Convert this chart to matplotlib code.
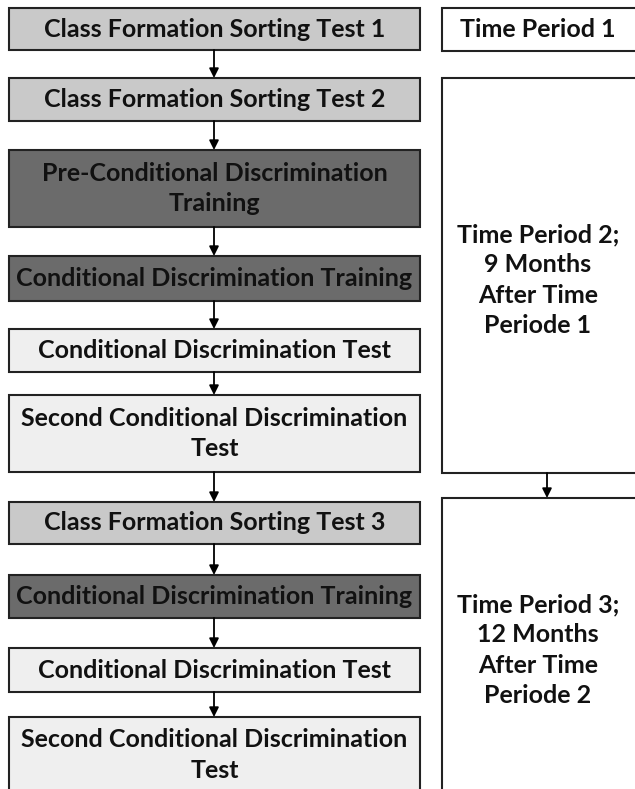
import matplotlib.pyplot as plt
from matplotlib.patches import Rectangle

# steps of the procedure (left column)
steps = [
    "Class Formation Sorting Test 1",
    "Class Formation Sorting Test 2",
    "Pre-Conditional Discrimination\nTraining",
    "Conditional Discrimination Training",
    "Conditional Discrimination Test",
    "Second Conditional Discrimination\nTest",
    "Class Formation Sorting Test 3",
    "Conditional Discrimination Training",
    "Conditional Discrimination Test",
    "Second Conditional Discrimination\nTest",
]
step_kind = ["sort", "sort", "train", "train", "test", "test", "sort", "train", "test", "test"]

# time periods (right column)
periods = [
    "Time Period 1",
    "Time Period 2;\n9 Months\nAfter Time\nPeriode 1",
    "Time Period 3;\n12 Months\nAfter Time\nPeriode 2",
]

# layout in pixels (top, bottom)
step_y = [(8, 50), (78, 121), (150, 227), (256, 301), (329, 372),
          (395, 472), (502, 544), (575, 618), (648, 692), (717, 800)]
period_y = [(8, 51), (78, 473), (498, 800)]
period_text_y = [29, 280, 650]

fills = {"sort": "#c9c9c9", "train": "#6b6b6b", "test": "#efefef"}

W, H = 635, 789
fig = plt.figure(figsize=(W / 100, H / 100), dpi=100)
ax = fig.add_axes([0, 0, 1, 1])
ax.set_xlim(0, W)
ax.set_ylim(H, 0)
ax.axis('off')

font = dict(family='Lato', weight='bold', fontsize=18, color='#111111')

lx0, lx1 = 9, 420
for i, (lab, kind) in enumerate(zip(steps, step_kind)):
    y0, y1 = step_y[i]
    ax.add_patch(Rectangle((lx0, y0), lx1 - lx0, y1 - y0, facecolor=fills[kind],
                           edgecolor='#222222', lw=1.5))
    ty = (y0 + y1) / 2 if i < 9 else 755
    ax.text((lx0 + lx1) / 2, ty, lab, ha='center', va='center',
            linespacing=1.38, **font)
    if i < len(steps) - 1:
        ax.annotate("", xy=(214, step_y[i + 1][0]), xytext=(214, y1),
                    arrowprops=dict(arrowstyle='-|>', color='black', lw=1.3,
                                    mutation_scale=14, shrinkA=0, shrinkB=0))

rx0, rx1 = 442, 660
for i, lab in enumerate(periods):
    y0, y1 = period_y[i]
    ax.add_patch(Rectangle((rx0, y0), rx1 - rx0, y1 - y0, facecolor='white',
                           edgecolor='#222222', lw=1.5))
    ax.text(538, period_text_y[i], lab, ha='center', va='center',
            linespacing=1.38, **font)

ax.annotate("", xy=(547, period_y[2][0]), xytext=(547, period_y[1][1]),
            arrowprops=dict(arrowstyle='-|>', color='black', lw=1.3,
                            mutation_scale=14, shrinkA=0, shrinkB=0))

fig.savefig('out.png', dpi=100)
